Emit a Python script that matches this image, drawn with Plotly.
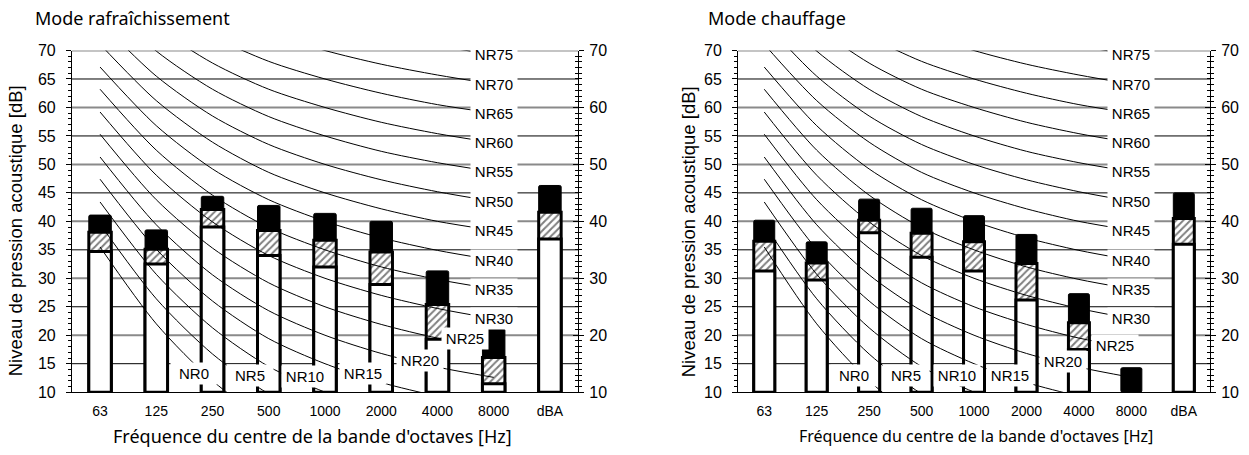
import plotly.graph_objects as go

# ---------------- data ----------------
categories = ["63", "125", "250", "500", "1000", "2000", "4000", "8000", "dBA"]
bands = categories[:8]

# Mode rafraîchissement (left)
cool_white = [34.7, 32.5, 39.0, 34.0, 32.0, 28.9, 19.3, 11.5, 36.9]
cool_hatch = [38.1, 35.1, 42.1, 38.4, 36.7, 34.6, 25.4, 16.1, 41.6]
cool_black = [41.1, 38.5, 44.4, 42.8, 41.4, 40.0, 31.3, 21.1, 46.3]

# Mode chauffage (right)
heat_white = [31.3, 29.7, 38.0, 33.7, 31.3, 26.2, 17.5, None, 36.0]
heat_hatch = [36.5, 32.7, 40.2, 37.9, 36.4, 32.6, 22.2, None, 40.5]
heat_black = [40.2, 36.4, 43.9, 42.3, 41.0, 37.7, 27.3, 14.3, 45.0]

# NR curves (63 ... 8000 Hz)
nr_names = ["NR0", "NR5", "NR10", "NR15", "NR20", "NR25", "NR30", "NR35",
            "NR40", "NR45", "NR50", "NR55", "NR60", "NR65", "NR70", "NR75"]
nr0 = [35.5, 22.0, 12.0, 4.8, 0.0, -3.5, -6.1, -8.0]
nr5 = [39.5, 26.4, 16.7, 9.7, 5.0, 1.6, -1.0, -2.9]
nr10 = [43.4, 30.7, 21.3, 14.5, 10.0, 6.7, 4.2, 2.3]
nr15 = [47.4, 35.1, 26.0, 19.4, 15.0, 11.7, 9.3, 7.5]
nr20 = [51.3, 39.4, 30.6, 24.3, 20.0, 16.8, 14.4, 12.6]
nr25 = [55.3, 43.8, 35.3, 29.2, 25.0, 21.9, 19.5, 17.8]
nr30 = [59.2, 48.1, 39.9, 34.0, 30.0, 27.0, 24.7, 22.9]
nr35 = [63.2, 52.5, 44.6, 38.9, 35.0, 32.0, 29.8, 28.1]
nr40 = [67.1, 56.8, 49.2, 43.8, 40.0, 37.1, 34.9, 33.2]
nr45 = [71.1, 61.2, 53.9, 48.6, 45.0, 42.2, 40.0, 38.4]
nr50 = [75.0, 65.5, 58.5, 53.5, 50.0, 47.3, 45.2, 43.5]
nr55 = [79.0, 69.9, 63.2, 58.4, 55.0, 52.3, 50.3, 48.7]
nr60 = [82.9, 74.2, 67.8, 63.2, 60.0, 57.4, 55.4, 53.8]
nr65 = [86.9, 78.6, 72.5, 68.1, 65.0, 62.5, 60.5, 59.0]
nr70 = [90.8, 82.9, 77.1, 73.0, 70.0, 67.6, 65.7, 64.1]
nr75 = [94.8, 87.3, 81.8, 77.9, 75.0, 72.6, 70.8, 69.3]
nr_curves = [nr0, nr5, nr10, nr15, nr20, nr25, nr30, nr35,
             nr40, nr45, nr50, nr55, nr60, nr65, nr70, nr75]

# label spots for the low NR curves (NR0..NR25): category index, level
cool_low_x = [1.67, 2.67, 3.64, 4.68, 5.69, 6.49]
cool_low_y = [13.2, 13.0, 12.7, 13.2, 15.5, 19.4]
heat_low_x = [1.72, 2.71, 3.68, 4.69, 5.70, 6.69]
heat_low_y = [13.0, 13.0, 12.9, 13.0, 15.4, 18.2]

y_ticks_left = list(range(10, 71, 5))
y_ticks_right = list(range(10, 71, 10))
grid_black = list(range(15, 70, 10))
grid_gray = list(range(20, 71, 10))

TICK_FONT = "Liberation Sans, Arial, sans-serif"
TITLE_FONT = "Noto Sans, Open Sans, sans-serif"

fig = go.Figure()

BASE = 10
BAR_W = 0.4


def add_panel(xa, ya, white, hatch, black, low_x, low_y):
    fig.add_trace(go.Bar(
        x=categories, y=[None if v is None else v - BASE for v in black], base=BASE,
        width=BAR_W, xaxis=xa, yaxis=ya, opacity=1,
        marker=dict(color="black", line=dict(color="black", width=1), cornerradius=1.5),
        showlegend=False, hoverinfo="skip"))
    fig.add_trace(go.Bar(
        x=categories, y=[None if v is None else v - BASE for v in hatch], base=BASE,
        width=BAR_W, xaxis=xa, yaxis=ya, opacity=1,
        marker=dict(color="white", line=dict(color="black", width=3),
                    pattern=dict(shape="/", fgcolor="black", bgcolor="white",
                                 size=5, solidity=0.4)),
        showlegend=False, hoverinfo="skip"))
    fig.add_trace(go.Bar(
        x=categories, y=[None if v is None else v - BASE for v in white], base=BASE,
        width=BAR_W, xaxis=xa, yaxis=ya, opacity=1,
        marker=dict(color="white", line=dict(color="black", width=3)),
        showlegend=False, hoverinfo="skip"))
    for name, vals in zip(nr_names, nr_curves):
        fig.add_trace(go.Scatter(
            x=bands, y=vals, mode="lines", xaxis=xa, yaxis=ya,
            line=dict(color="black", width=1, shape="spline", smoothing=0.8),
            showlegend=False, hoverinfo="skip", name=name))
    low_i = 0
    for name, vals in zip(nr_names, nr_curves):
        level = int(name[2:])
        if level >= 30:
            lx, ly = 7, vals[7]
        else:
            lx, ly = low_x[low_i], low_y[low_i]
            low_i += 1
        fig.add_annotation(
            x=lx, y=ly, xref=xa, yref=ya, text=name, showarrow=False,
            font=dict(family=TICK_FONT, size=15, color="black"),
            bgcolor="white", borderpad=2, width=42,
            xanchor="center", yanchor="middle")
    xdom = ("x domain" if xa == "x" else "x2 domain")
    for v in grid_black:
        fig.add_shape(type="line", xref=xdom, yref=ya, x0=0, x1=1, y0=v, y1=v,
                      line=dict(color="black", width=1), layer="below")
    for v in grid_gray:
        fig.add_shape(type="line", xref=xdom, yref=ya, x0=0, x1=1, y0=v, y1=v,
                      line=dict(color="#8a8a8a", width=2), layer="below")


add_panel("x", "y", cool_white, cool_hatch, cool_black, cool_low_x, cool_low_y)
add_panel("x2", "y2", heat_white, heat_hatch, heat_black, heat_low_x, heat_low_y)

# dummy traces so the right-hand axes exist
for xa, ya in [("x", "y3"), ("x", "y5"), ("x2", "y4"), ("x2", "y6")]:
    fig.add_trace(go.Scatter(x=[categories[0]], y=[None], xaxis=xa, yaxis=ya,
                             mode="lines", showlegend=False, hoverinfo="skip"))

XD1 = [0.0576, 0.4628]
XD2 = [0.5909, 0.9688]
YD = [0.1229, 0.9029]


def xaxis_cfg(domain, anchor):
    return dict(domain=domain, anchor=anchor, type="category",
                categoryorder="array", categoryarray=categories,
                range=[-0.5, 8.5], showline=True, linecolor="black", linewidth=1,
                ticks="", showgrid=False, zeroline=False, ticklabelstandoff=6,
                tickfont=dict(family=TICK_FONT, size=14, color="black"))


def yleft_cfg(anchor):
    return dict(domain=YD, anchor=anchor, range=[10, 70], tickvals=y_ticks_left,
                ticks="outside", ticklen=5, tickcolor="black", tickwidth=1,
                showline=True, linecolor="black", linewidth=1,
                showgrid=False, zeroline=False,
                minor=dict(dtick=1, tick0=10, ticks="outside", ticklen=3,
                           tickcolor="black", showgrid=False),
                ticklabelstandoff=7,
                tickfont=dict(family=TICK_FONT, size=16, color="black"))


def yright_cfg(anchor, over):
    return dict(domain=YD, anchor=anchor, overlaying=over, side="right",
                range=[10, 70], tickvals=y_ticks_right,
                ticks="outside", ticklen=5, tickcolor="black", tickwidth=1,
                showline=True, linecolor="black", linewidth=1,
                showgrid=False, zeroline=False,
                minor=dict(dtick=1, tick0=10, ticks="outside", ticklen=3,
                           tickcolor="black", showgrid=False),
                ticklabelstandoff=2,
                tickfont=dict(family=TICK_FONT, size=16, color="black"))


def yright_in_cfg(anchor, over):
    return dict(domain=YD, anchor=anchor, overlaying=over, side="right",
                range=[10, 70], tickvals=y_ticks_right,
                ticks="inside", ticklen=5, tickcolor="black", tickwidth=1,
                showline=False, showgrid=False, zeroline=False,
                showticklabels=False,
                minor=dict(dtick=1, tick0=10, ticks="inside", ticklen=3,
                           tickcolor="black", showgrid=False))


fig.update_layout(
    width=1249, height=455,
    margin=dict(l=0, r=0, t=0, b=0),
    paper_bgcolor="white", plot_bgcolor="white",
    barmode="overlay",
    showlegend=False,
    xaxis=xaxis_cfg(XD1, "y"),
    xaxis2=xaxis_cfg(XD2, "y2"),
    yaxis=yleft_cfg("x"),
    yaxis2=yleft_cfg("x2"),
    yaxis3=yright_cfg("x", "y"),
    yaxis4=yright_cfg("x2", "y2"),
    yaxis5=yright_in_cfg("x", "y"),
    yaxis6=yright_in_cfg("x2", "y2"),
)

W, H = 1249, 455


def px(x):
    return x / W


def py(y):
    return 1 - y / H


texts = [
    dict(text="Mode rafraîchissement", x=px(33), y=py(10), xanchor="left",
         yanchor="middle", size=18, angle=0, font=TITLE_FONT),
    dict(text="Mode chauffage", x=px(706), y=py(10), xanchor="left",
         yanchor="middle", size=18, angle=0, font=TITLE_FONT),
    dict(text="Niveau de pression acoustique [dB]", x=px(15), y=py(232),
         xanchor="center", yanchor="middle", size=18.5, angle=-90, font=TICK_FONT),
    dict(text="Niveau de pression acoustique [dB]", x=px(688), y=py(232),
         xanchor="center", yanchor="middle", size=18.5, angle=-90, font=TICK_FONT),
    dict(text="Fréquence du centre de la bande d'octaves [Hz]", x=px(312), y=py(445),
         xanchor="center", yanchor="middle", size=18, angle=0, font=TITLE_FONT),
    dict(text="Fréquence du centre de la bande d'octaves [Hz]", x=px(976), y=py(445),
         xanchor="center", yanchor="middle", size=16, angle=0, font=TITLE_FONT),
]
for t in texts:
    fig.add_annotation(text=t["text"], x=t["x"], y=t["y"], xref="paper", yref="paper",
                       xanchor=t["xanchor"], yanchor=t["yanchor"], showarrow=False,
                       textangle=t["angle"],
                       font=dict(family=t["font"], size=t["size"], color="black"))

fig.write_html("out.html",
               config={"displayModeBar": False},
               post_script="document.body.style.margin='0';"
                           "document.body.style.overflow='hidden';")
